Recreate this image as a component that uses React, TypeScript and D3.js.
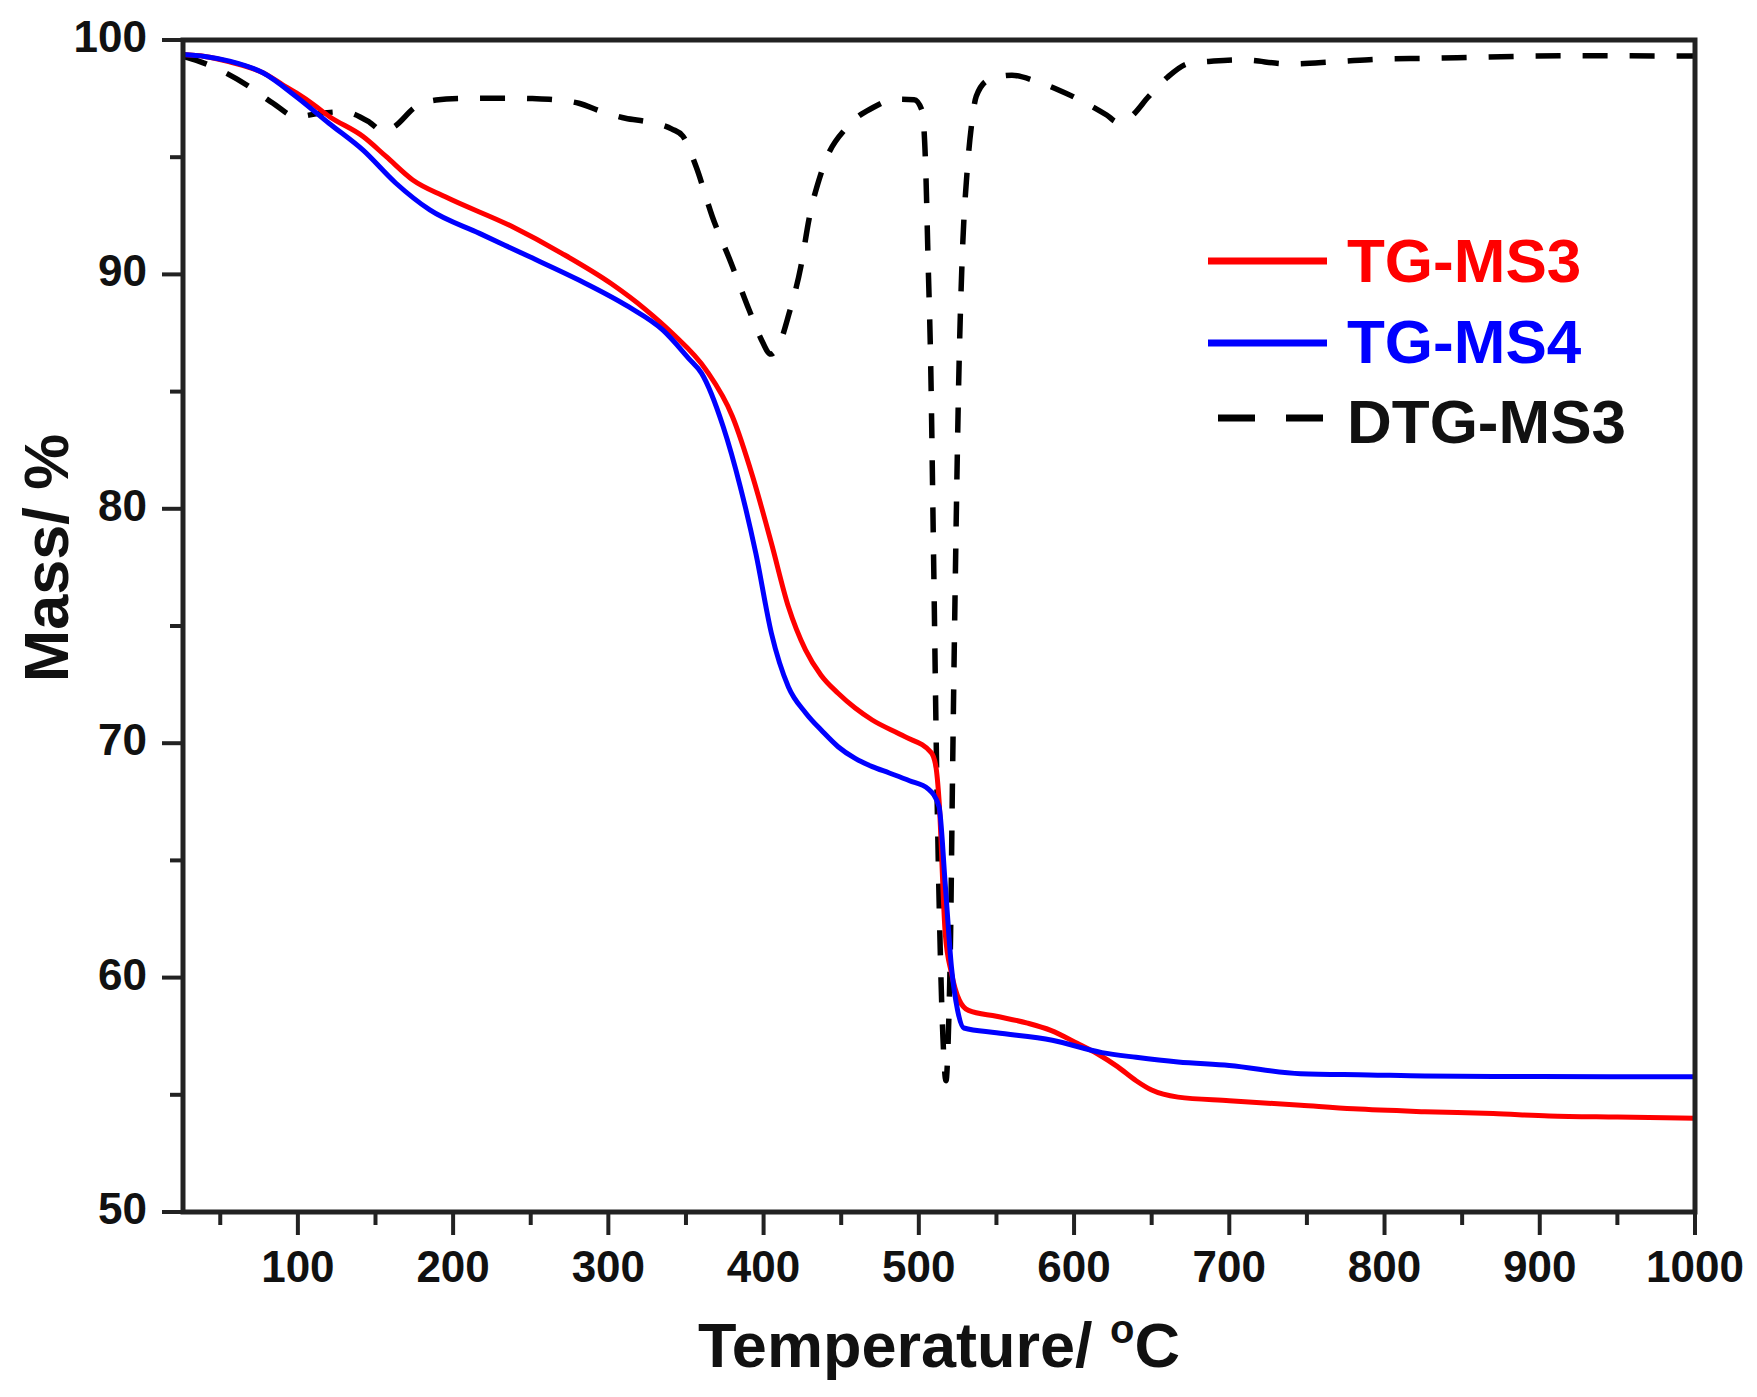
import React from "react";
import * as d3 from "d3";

// ---- Data (Temperature °C, Mass %) ----
const tgMS3T = [26, 40, 56, 70, 77.5, 90, 99, 110, 120, 142, 157, 174, 195, 238, 270, 302, 324, 341, 363, 380, 393, 405, 416, 427, 437, 448, 459, 470, 491, 508, 511, 513, 517, 521, 526, 532, 550, 570, 585, 602, 615, 628, 640, 650, 667, 700, 746, 780, 826, 870, 906, 950, 1000];
const tgMS3M = [99.38, 99.3, 99.07, 98.8, 98.6, 98.1, 97.74, 97.25, 96.75, 95.88, 95.02, 94.03, 93.31, 92.04, 90.9, 89.6, 88.5, 87.5, 85.92, 83.93, 81.37, 78.54, 75.82, 73.98, 72.9, 72.13, 71.5, 70.99, 70.28, 69.6, 69.0, 67.6, 61.9, 60.2, 59.05, 58.6, 58.35, 58.06, 57.75, 57.2, 56.75, 56.2, 55.6, 55.2, 54.9, 54.75, 54.55, 54.4, 54.28, 54.2, 54.1, 54.05, 54.0];

const tgMS4T = [26, 40, 56, 77.5, 99, 120, 142, 163, 185, 217, 249, 281, 313, 335, 352, 360, 374, 385, 395, 405, 416, 427, 438, 448, 459, 470, 481, 494, 506, 513, 517, 521, 525, 529, 550, 586, 618, 640, 667, 700, 746, 790, 826, 900, 1000];
const tgMS4M = [99.38, 99.3, 99.1, 98.6, 97.58, 96.45, 95.3, 93.9, 92.75, 91.75, 90.76, 89.76, 88.62, 87.63, 86.4, 85.79, 83.5, 80.94, 78.1, 74.7, 72.4, 71.3, 70.5, 69.85, 69.35, 69.0, 68.73, 68.4, 68.05, 67.3, 64.0, 60.46, 58.6, 57.85, 57.65, 57.33, 56.8, 56.6, 56.4, 56.25, 55.9, 55.85, 55.8, 55.78, 55.77];

const dtgT = [26, 36, 54, 69, 84, 99, 114, 129, 146, 155, 162, 176, 189, 206, 222, 236, 251, 266, 281, 296, 311, 326, 341, 348, 356.5, 367, 379, 390.7, 398, 404.7, 410, 416.5, 424, 429.4, 437.7, 455, 470, 485, 497, 502, 504.4, 506, 507.6, 509.5, 511.7, 513.5, 515.5, 517.5, 519, 520.5, 521.6, 523.5, 526, 528, 531, 534, 537, 545, 560, 575, 590, 605, 621, 628, 636, 648, 660, 674, 690, 708, 738, 768, 799, 830, 860, 920, 980, 1000];
const dtgM = [99.3, 99.1, 98.58, 98.0, 97.3, 96.73, 96.87, 96.94, 96.5, 96.1, 96.3, 97.16, 97.44, 97.51, 97.52, 97.52, 97.5, 97.45, 97.3, 96.94, 96.66, 96.5, 96.2, 95.9, 94.6, 92.46, 90.5, 88.48, 87.3, 86.6, 87.0, 88.35, 90.33, 92.4, 94.45, 96.37, 97.1, 97.47, 97.45, 97.0, 94.6, 90.5, 86.35, 78, 68, 62, 57.5, 55.6, 57.5, 62, 68, 77, 86.35, 90.8, 94.3, 96.4, 97.6, 98.3, 98.5, 98.25, 97.87, 97.4, 96.8, 96.5, 96.7, 97.58, 98.4, 99.0, 99.1, 99.15, 98.98, 99.07, 99.19, 99.22, 99.26, 99.33, 99.32, 99.32];

const xMajorTicks = [100, 200, 300, 400, 500, 600, 700, 800, 900, 1000];
const xMinorTicks = [50, 150, 250, 350, 450, 550, 650, 750, 850, 950];
const yMajorTicks = [50, 60, 70, 80, 90, 100];
const yMinorTicks = [55, 65, 75, 85, 95];

const legendItems = [
  { label: "TG-MS3", color: "#ff0000", dashed: false },
  { label: "TG-MS4", color: "#0000ff", dashed: false },
  { label: "DTG-MS3", color: "#000000", dashed: true },
];

const FONT = "'Liberation Sans', Arial, Helvetica, sans-serif";

export default function App() {
  const W = 1757;
  const H = 1397;
  const left = 183, right = 1695, top = 40, bottom = 1212;

  const x = d3.scaleLinear().domain([26, 1000]).range([left, right]);
  const y = d3.scaleLinear().domain([50, 100]).range([bottom, top]);

  const line = d3
    .line<[number, number]>()
    .x((d) => x(d[0]))
    .y((d) => y(d[1]))
    .curve(d3.curveMonotoneX);

  const zip = (a: number[], b: number[]) => a.map((v, i) => [v, b[i]] as [number, number]);

  const frameColor = "#222";

  return (
    <svg
      width={W}
      height={H}
      viewBox={`0 0 ${W} ${H}`}
      style={{ position: "absolute", left: 0, top: 0, background: "#fff" }}
    >
      <rect x={0} y={0} width={W} height={H} fill="#fff" />
      <defs>
        <clipPath id="plotClip">
          <rect x={left} y={top} width={right - left} height={bottom - top} />
        </clipPath>
      </defs>

      {/* Curves */}
      <g clipPath="url(#plotClip)" fill="none" strokeLinejoin="round">
        <path d={line(zip(dtgT, dtgM)) || ""} stroke="#000" strokeWidth={5.5} strokeDasharray="25 22" />
        <path d={line(zip(tgMS3T, tgMS3M)) || ""} stroke="#ff0000" strokeWidth={5} />
        <path d={line(zip(tgMS4T, tgMS4M)) || ""} stroke="#0000ff" strokeWidth={5} />
      </g>

      {/* Frame */}
      <rect x={left} y={top} width={right - left} height={bottom - top} fill="none" stroke={frameColor} strokeWidth={5} />

      {/* Y ticks */}
      {yMajorTicks.map((v) => (
        <line key={"ym" + v} x1={left - 21} x2={left} y1={y(v)} y2={y(v)} stroke={frameColor} strokeWidth={4} />
      ))}
      {yMinorTicks.map((v) => (
        <line key={"yn" + v} x1={left - 13} x2={left} y1={y(v)} y2={y(v)} stroke={frameColor} strokeWidth={4} />
      ))}
      {yMajorTicks.map((v) => (
        <text key={"yl" + v} x={147} y={y(v) + 12} textAnchor="end" fontFamily={FONT} fontWeight="bold" fontSize={44} fill="#111">
          {v}
        </text>
      ))}

      {/* X ticks */}
      {xMajorTicks.map((v) => (
        <line key={"xm" + v} x1={x(v)} x2={x(v)} y1={bottom} y2={bottom + 23} stroke={frameColor} strokeWidth={4} />
      ))}
      {xMinorTicks.map((v) => (
        <line key={"xn" + v} x1={x(v)} x2={x(v)} y1={bottom} y2={bottom + 13} stroke={frameColor} strokeWidth={4} />
      ))}
      {xMajorTicks.map((v) => (
        <text key={"xl" + v} x={x(v)} y={1282} textAnchor="middle" fontFamily={FONT} fontWeight="bold" fontSize={44} fill="#111">
          {v}
        </text>
      ))}

      {/* Axis titles */}
      <text x={(left + right) / 2} y={1367} textAnchor="middle" fontFamily={FONT} fontWeight="bold" fontSize={63} fill="#111">
        Temperature/ <tspan fontSize={40} dy={-24}>o</tspan>
        <tspan dy={24}>C</tspan>
      </text>
      <text
        transform={`translate(68, 558) rotate(-90)`}
        textAnchor="middle"
        fontFamily={FONT}
        fontWeight="bold"
        fontSize={63}
        fill="#111"
      >
        Mass/ %
      </text>

      {/* Legend */}
      {legendItems.map((item, i) => {
        const ly = [261, 343, 418][i];
        const ty = [282, 363, 443][i];
        return (
          <g key={item.label}>
            {item.dashed ? (
              <line x1={1218} x2={1323} y1={ly} y2={ly} stroke={item.color} strokeWidth={7} strokeDasharray="37 31" />
            ) : (
              <line x1={1208} x2={1327} y1={ly} y2={ly} stroke={item.color} strokeWidth={7} />
            )}
            <text x={1347} y={ty} fontFamily={FONT} fontWeight="bold" fontSize={62} fill={item.dashed ? "#111" : item.color}>
              {item.label}
            </text>
          </g>
        );
      })}
    </svg>
  );
}
